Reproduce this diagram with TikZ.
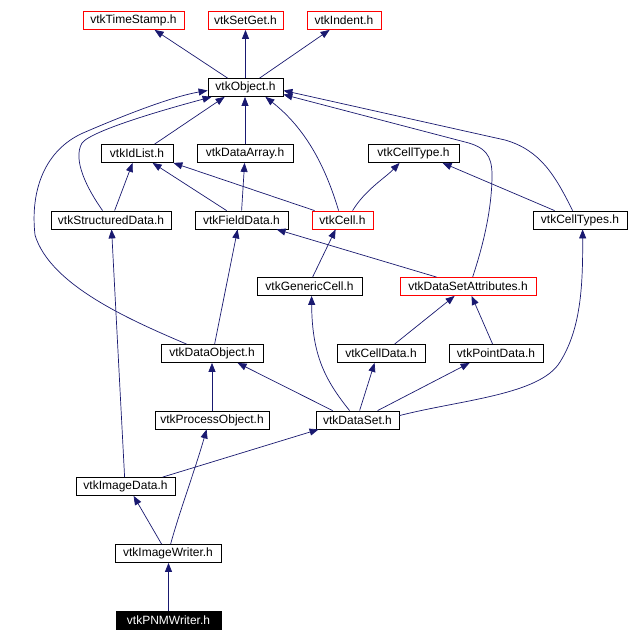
\documentclass[tikz,border=0pt]{standalone}
\usepackage{fontspec}
\setmainfont{Liberation Sans}
\usetikzlibrary{arrows.meta}
\definecolor{edgeblue}{RGB}{25,25,112}
\begin{document}
\begin{tikzpicture}[x=1pt,y=-1pt,
  box/.style={draw=black, line width=0.8pt, fill=white, minimum height=18pt, inner sep=0pt, font=\fontsize{12}{14}\selectfont, text=black},
  redbox/.style={box, draw=red},
  blackbox/.style={box, fill=black, text=white},
  edge/.style={draw=edgeblue, line width=0.7pt, -{Triangle[length=9pt,width=7pt]}}]
\fill[white] (0,0) rectangle (629,642);
\useasboundingbox (0,0) rectangle (629,642);

\node[redbox, minimum width=101pt] (timestamp) at (133.5,20.5) {vtkTimeStamp.h};
\node[redbox, minimum width=75pt] (setget) at (245.5,20.5) {vtkSetGet.h};
\node[redbox, minimum width=74pt] (indent) at (344,20.5) {vtkIndent.h};
\node[box, minimum width=75pt] (object) at (245.5,87.5) {vtkObject.h};
\node[box, minimum width=72pt] (idlist) at (137,153.5) {vtkIdList.h};
\node[box, minimum width=96pt] (dataarray) at (245,153.5) {vtkDataArray.h};
\node[box, minimum width=91pt] (celltype) at (413.5,153.5) {vtkCellType.h};
\node[box, minimum width=120pt] (structured) at (111,220) {vtkStructuredData.h};
\node[box, minimum width=93pt] (fielddata) at (241.5,220) {vtkFieldData.h};
\node[redbox, minimum width=61pt] (cell) at (342.5,220) {vtkCell.h};
\node[box, minimum width=94pt] (celltypes) at (580,220) {vtkCellTypes.h};
\node[box, minimum width=105pt] (genericcell) at (309.5,286.5) {vtkGenericCell.h};
\node[redbox, minimum width=136pt] (dsa) at (468,286.5) {vtkDataSetAttributes.h};
\node[box, minimum width=102pt] (dataobject) at (212,353.5) {vtkDataObject.h};
\node[box, minimum width=88pt] (celldata) at (381,353.5) {vtkCellData.h};
\node[box, minimum width=94pt] (pointdata) at (496,353.5) {vtkPointData.h};
\node[box, minimum width=114pt] (processobject) at (212,420) {vtkProcessObject.h};
\node[box, minimum width=83pt] (dataset) at (357.5,420) {vtkDataSet.h};
\node[box, minimum width=99pt] (imagedata) at (125.5,486.5) {vtkImageData.h};
\node[box, minimum width=106pt] (imagewriter) at (168,553.5) {vtkImageWriter.h};
\node[blackbox, minimum width=105pt] (pnmwriter) at (168.5,620.5) {vtkPNMWriter.h};

\draw[edge] ([xshift=20pt]object.north west) -- ([xshift=72pt]timestamp.south west);
\draw[edge] (object.north) -- (setget.south);
\draw[edge] ([xshift=52pt]object.north west) -- ([xshift=23pt]indent.south west);
\draw[edge] ([xshift=54pt]idlist.north west) -- ([xshift=17pt]object.south west);
\draw[edge] (dataarray.north) -- (dataarray.north |- object.south);
\draw[edge] ([xshift=52pt]structured.north west) .. controls (88,190) and (72,160) .. (82,143) .. controls (92,130) and (170,108) .. ([xshift=4pt]object.south west);
\draw[edge] ([xshift=26pt]dataobject.north west) .. controls (130,320) and (50,285) .. (35,235) .. controls (30,190) and (45,150) .. (83,133) .. controls (120,117) and (170,97) .. ([yshift=-3pt]object.west);
\draw[edge] ([xshift=27pt]cell.north west) .. controls (325,165) and (305,128) .. ([xshift=-18pt]object.south east);
\draw[edge] ([xshift=73pt]dsa.north west) .. controls (485,240) and (492,205) .. (492,175) .. controls (492,155) and (485,147) .. (465,142) -- ([yshift=-7pt]object.east);
\draw[edge] ([xshift=40pt]celltypes.north west) .. controls (555,175) and (540,150) .. (505,140) -- ([yshift=-3pt]object.east);
\draw[edge] ([xshift=32pt]fielddata.north west) -- ([xshift=52pt]idlist.south west);
\draw[edge] ([xshift=3pt]cell.north west) -- (idlist.south east);
\draw[edge] ([xshift=64pt]structured.north west) -- ([xshift=32pt]idlist.south west);
\draw[edge] ([xshift=47pt]fielddata.north west) -- ([xshift=48pt]dataarray.south west);
\draw[edge] ([xshift=41pt]cell.north west) .. controls (365,190) and (385,178) .. ([xshift=32pt]celltype.south west);
\draw[edge] ([xshift=22pt]celltypes.north west) -- ([xshift=75pt]celltype.south west);
\draw[edge] ([xshift=37pt]dsa.north west) -- ([xshift=82pt]fielddata.south west);
\draw[edge] ([xshift=56pt]genericcell.north west) -- ([xshift=24pt]cell.south west);
\draw[edge] ([xshift=54pt]dataobject.north west) -- ([xshift=43pt]fielddata.south west);
\draw[edge] ([xshift=49pt]imagedata.north west) -- ([xshift=61pt]structured.south west);
\draw[edge] ([xshift=58pt]celldata.north west) -- ([xshift=55pt]dsa.south west);
\draw[edge] ([xshift=44pt]pointdata.north west) -- ([xshift=72pt]dsa.south west);
\draw[edge] ([yshift=-5pt]dataset.north east) .. controls (460,400) and (540,395) .. (560,362) .. controls (580,330) and (583,290) .. ([xshift=50pt]celltypes.south west);
\draw[edge] ([xshift=34pt]dataset.north west) .. controls (325,380) and (312,355) .. ([xshift=55pt]genericcell.south west);
\draw[edge] ([xshift=44pt]dataset.north west) -- ([xshift=38pt]celldata.south west);
\draw[edge] ([xshift=62pt]dataset.north west) -- ([xshift=21pt]pointdata.south west);
\draw[edge] ([xshift=17pt]dataset.north west) -- ([xshift=77pt]dataobject.south west);
\draw[edge] (processobject.north) -- (dataobject.south);
\draw[edge] ([xshift=87pt]imagedata.north west) -- ([xshift=3pt]dataset.south west);
\draw[edge] ([xshift=56pt]imagewriter.north west) .. controls (180,510) and (195,470) .. ([xshift=52pt]processobject.south west);
\draw[edge] ([xshift=47pt]imagewriter.north west) -- ([xshift=58pt]imagedata.south west);
\draw[edge] (pnmwriter.north) -- (pnmwriter.north |- imagewriter.south);
\end{tikzpicture}
\end{document}
